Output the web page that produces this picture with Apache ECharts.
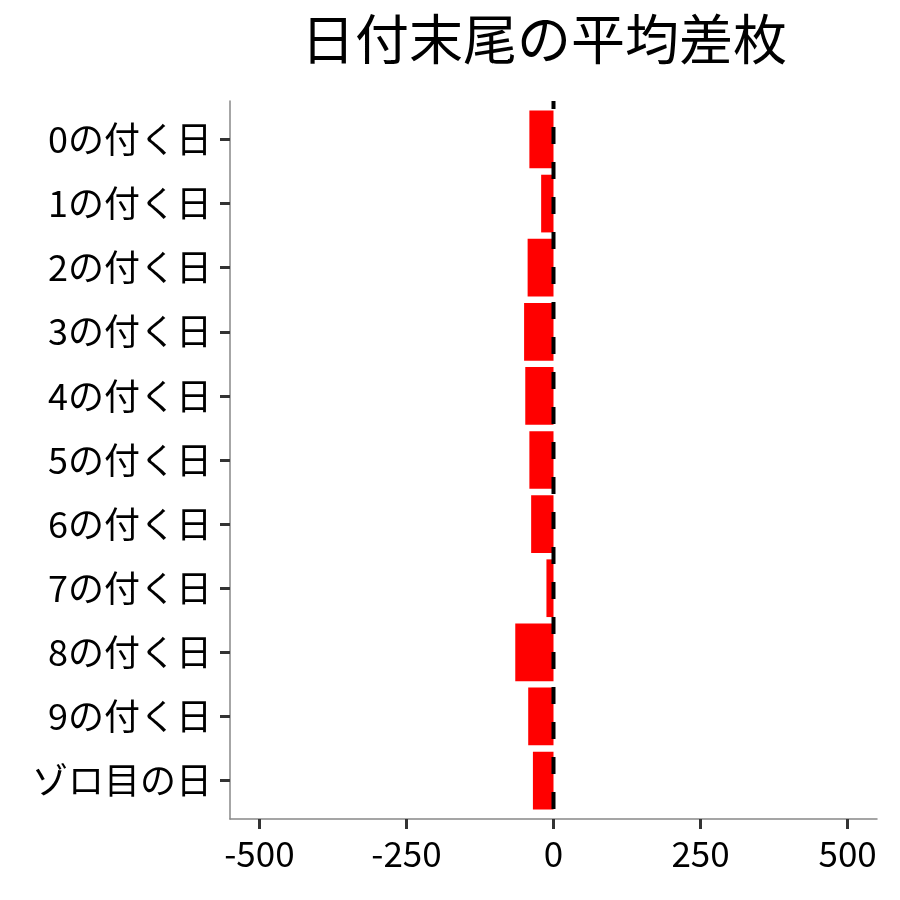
<!DOCTYPE html>
<html>
<head>
<meta charset="utf-8">
<script src="https://cdn.jsdelivr.net/npm/echarts@6/dist/echarts.min.js"></script>
<style>
html,body{margin:0;padding:0;background:#fff;}
#chart{width:900px;height:900px;}
</style>
</head>
<body>
<div id="chart"></div>
<script>
const titleText = '日付末尾の平均差枚';
const categories = ['0の付く日','1の付く日','2の付く日','3の付く日','4の付く日','5の付く日','6の付く日','7の付く日','8の付く日','9の付く日','ゾロ目の日'];
const diffValues = [-41, -21, -44, -50, -48, -41, -38, -12, -65, -43, -35];
const xTicks = [-500, -250, 0, 250, 500];
const xRange = [-550, 550];
const zeroLine = [[0, -0.6], [0, 10.6]];

const FONT = '"Noto Sans CJK JP", "Noto Sans", sans-serif';
const catIdx = categories.map((c, i) => i);

const chart = echarts.init(document.getElementById('chart'));
chart.setOption({
  backgroundColor: '#ffffff',
  animation: false,
  title: {
    text: titleText,
    left: 539,
    top: 7,
    textAlign: 'center',
    textStyle: { fontFamily: FONT, fontSize: 54, fontWeight: 'normal', color: '#000' }
  },
  grid: { left: 230, right: 23, top: 101, bottom: 81, containLabel: false },
  xAxis: {
    type: 'value',
    min: xRange[0],
    max: xRange[1],
    splitLine: { show: false },
    axisLine: { show: true, onZero: false, lineStyle: { color: '#888', width: 1.5 } },
    axisTick: { show: true, customValues: xTicks, length: 10, lineStyle: { color: '#333', width: 3 } },
    axisLabel: { customValues: xTicks, margin: 17, fontFamily: FONT, fontSize: 35, color: '#000' }
  },
  yAxis: {
    type: 'value',
    min: -0.6,
    max: categories.length - 0.4,
    inverse: true,
    splitLine: { show: false },
    axisLine: { show: true, onZero: false, lineStyle: { color: '#888', width: 1.5 } },
    axisTick: { show: true, customValues: catIdx, length: 10, lineStyle: { color: '#333', width: 3 } },
    axisLabel: {
      customValues: catIdx, margin: 18, fontFamily: FONT, fontSize: 36, color: '#000',
      formatter: v => categories[Math.round(v)] || ''
    }
  },
  series: [
    {
      type: 'custom',
      encode: { x: 0, y: 1 },
      data: diffValues.map((v, i) => [v, i]),
      renderItem: function (params, api) {
        const idx = api.value(1);
        const val = api.value(0);
        const p0 = api.coord([0, idx]);
        const p1 = api.coord([val, idx]);
        const h = Math.abs(api.size([0, 0.9])[1]);
        return {
          type: 'rect',
          shape: { x: Math.min(p0[0], p1[0]), y: p0[1] - h / 2, width: Math.abs(p1[0] - p0[0]), height: h },
          style: { fill: '#ff0000' }
        };
      },
      z: 2
    },
    {
      type: 'line',
      data: zeroLine,
      symbol: 'none',
      lineStyle: { color: '#000', width: 4, type: [17, 18], dashOffset: 9 },
      z: 5
    }
  ]
});
</script>
</body>
</html>
